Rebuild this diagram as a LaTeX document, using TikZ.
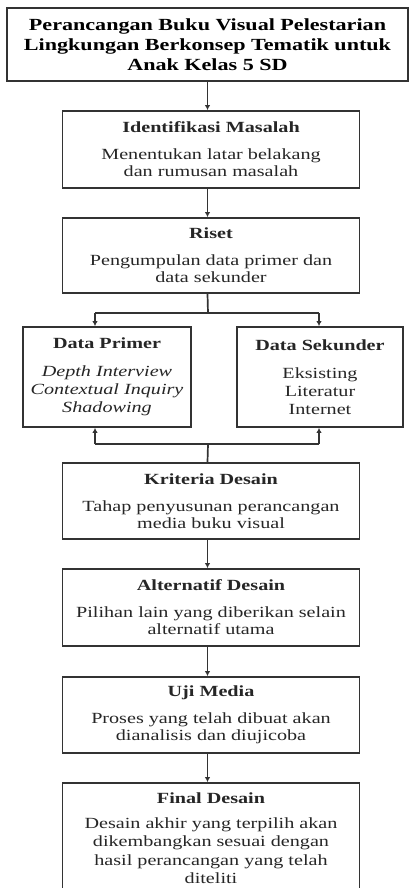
\documentclass[tikz,border=0pt]{standalone}
\usepackage{fontspec}
\setmainfont{Liberation Serif}[FakeStretch=1.3]
\usetikzlibrary{arrows.meta}
\newcommand{\bodyfnt}{\fontsize{15.5}{17}\selectfont}
\newcommand{\titlefnt}{\fontsize{17}{20}\selectfont\bfseries}
\tikzset{
  box/.style={draw=black!80, line width=1.8pt, align=center, inner sep=0pt, font=\bodyfnt, text=black!85},
  conn/.style={draw=black!80, line width=1.7pt},
  arr/.style={conn, -{Latex[length=5pt,width=5.5pt]}}
}
\begin{document}
\begin{tikzpicture}[x=1pt,y=-1pt]
\useasboundingbox (0,0) rectangle (409,888);
\fill[white] (0,0) rectangle (409,888);
\clip (0,0) rectangle (409,888);
\node[box, minimum width=401, minimum height=73, font=\titlefnt, text=black] (title) at (207.5,44.5)
  {Perancangan Buku Visual Pelestarian\\Lingkungan Berkonsep Tematik untuk\\Anak Kelas 5 SD};
\node[box, minimum width=297, minimum height=77] (idm) at (211,149.5)
  {{\bfseries Identifikasi Masalah}\\[10pt]Menentukan latar belakang\\dan rumusan masalah};
\node[box, minimum width=297, minimum height=75] (riset) at (211,255.5)
  {{\bfseries Riset}\\[10pt]Pengumpulan data primer dan\\data sekunder};
\node[box, minimum width=168, minimum height=100] (primer) at (107,377)
  {{\bfseries Data Primer}\\[11pt]\itshape Depth Interview\\[1pt]\itshape Contextual Inquiry\\[1pt]\itshape Shadowing};
\node[box, minimum width=166, minimum height=100] (sekunder) at (320,377)
  {{\bfseries Data Sekunder}\\[11pt]Eksisting\\[1pt]Literatur\\[1pt]Internet};
\node[box, minimum width=297, minimum height=76] (kriteria) at (211,501)
  {{\bfseries Kriteria Desain}\\[10pt]Tahap penyusunan perancangan\\media buku visual};
\node[box, minimum width=297, minimum height=77] (alt) at (211,607.5)
  {{\bfseries Alternatif Desain}\\[10pt]Pilihan lain yang diberikan selain\\alternatif utama};
\node[box, minimum width=297, minimum height=76] (uji) at (211,715)
  {{\bfseries Uji Media}\\[10pt]Proses yang telah dibuat akan\\dianalisis dan diujicoba};
\node[box, minimum width=297, minimum height=110] (final) at (211,838)
  {{\bfseries Final Desain}\\[8pt]Desain akhir yang terpilih akan\\[1.5pt]dikembangkan sesuai dengan\\[1.5pt]hasil perancangan yang telah\\[1.5pt]diteliti};
\coordinate (bt) at (208,313);
\coordinate (bl) at (95,313);
\coordinate (br) at (319,313);
\coordinate (jt) at (208,444);
\coordinate (jl) at (95,444);
\coordinate (jr) at (319,444);
\draw[arr] (title.south) -- (title.south |- idm.north);
\draw[arr] (title.south |- idm.south) -- (title.south |- riset.north);
\draw[conn] (title.south |- riset.south) -- (bt);
\draw[conn] (bl) -- (br);
\draw[arr] (bl) -- (bl |- primer.north);
\draw[arr] (br) -- (br |- sekunder.north);
\draw[conn] (title.south |- kriteria.north) -- (jt);
\draw[conn] (jl) -- (jr);
\draw[arr] (jl) -- (jl |- primer.south);
\draw[arr] (jr) -- (jr |- sekunder.south);
\draw[arr] (title.south |- kriteria.south) -- (title.south |- alt.north);
\draw[arr] (title.south |- alt.south) -- (title.south |- uji.north);
\draw[arr] (title.south |- uji.south) -- (title.south |- final.north);
\end{tikzpicture}
\end{document}
